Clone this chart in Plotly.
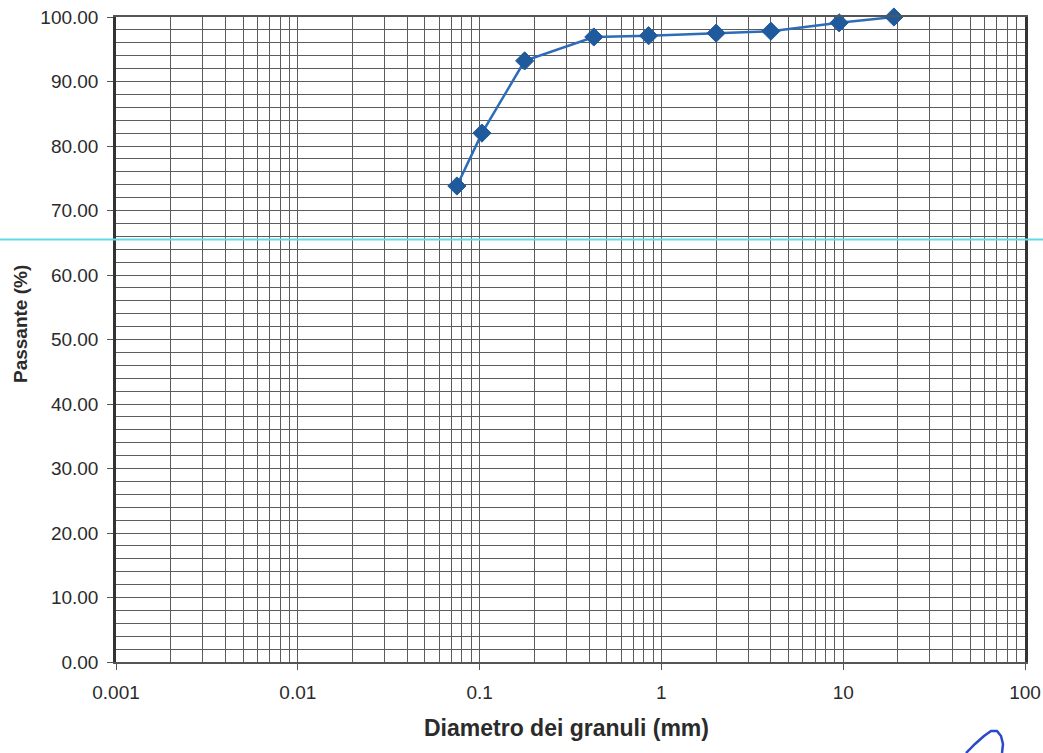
import plotly.graph_objects as go

# Data
diameters_mm = [0.075, 0.103, 0.177, 0.425, 0.85, 2.0, 4.0, 9.5, 19.0]
passing_pct = [73.8, 82.0, 93.2, 96.9, 97.1, 97.5, 97.8, 99.1, 100.0]

x_tick_vals = [0.001, 0.01, 0.1, 1, 10, 100]
x_tick_text = ["0.001", "0.01", "0.1", "1", "10", "100"]
x_minor_vals = [m * d for d in [0.001, 0.01, 0.1, 1, 10] for m in range(2, 10)]
y_tick_vals = [0, 10, 20, 30, 40, 50, 60, 70, 80, 90, 100]
y_tick_text = [f"{v:.2f}" for v in y_tick_vals]
scan_line_level = 65.5

FONT = "Liberation Sans, Arial, sans-serif"
GRID = "#5c5c5c"

FIG_W, FIG_H = 1043, 753
L, R, T, B = 116, 1025, 17, 662
W, H = R - L, B - T


def px(x):
    return (x - L) / W


def py(y):
    return (B - y) / H


fig = go.Figure()
fig.add_trace(go.Scatter(
    x=diameters_mm, y=passing_pct, mode="lines+markers",
    line=dict(color="#2d6cb6", width=2.5),
    marker=dict(symbol="diamond", size=14, color="#1f5a9c",
                line=dict(color="#1f5a9c", width=1)),
    showlegend=False, cliponaxis=False,
))

# scanner artifact: horizontal cyan line spanning the whole image
fig.add_shape(type="line", xref="paper", yref="y",
              x0=px(0), x1=px(1043), y0=scan_line_level, y1=scan_line_level,
              line=dict(color="#5fdbe6", width=2), layer="above")

# signature scribble at bottom right
pts = [(966, 753), (975, 744), (984, 736), (991, 731), (997, 731),
       (1001, 736), (1003, 744), (1002, 753)]
path = "M " + " L ".join(f"{px(a):.4f},{py(b):.4f}" for a, b in pts)
fig.add_shape(type="path", xref="paper", yref="paper", path=path,
              line=dict(color="#2a48c8", width=2.5))

fig.update_layout(
    width=FIG_W, height=FIG_H,
    margin=dict(l=L, r=FIG_W - R, t=T, b=FIG_H - B, autoexpand=False),
    paper_bgcolor="white", plot_bgcolor="white",
    font=dict(family=FONT, size=19, color="#2b2b2b"),
    xaxis=dict(
        type="log", range=[-3, 2], automargin=False,
        tickmode="array", tickvals=x_tick_vals, ticktext=x_tick_text,
        ticks="outside", ticklen=6, tickcolor="#555", ticklabelstandoff=6,
        showgrid=True, gridcolor=GRID, gridwidth=1,
        minor=dict(tickmode="array", tickvals=x_minor_vals, showgrid=True,
                   gridcolor=GRID, gridwidth=1, ticks=""),
        showline=True, linecolor="#555", linewidth=2, mirror=True,
        zeroline=False,
    ),
    yaxis=dict(
        range=[0, 100], automargin=False,
        tickmode="array", tickvals=y_tick_vals, ticktext=y_tick_text,
        ticks="outside", ticklen=6, tickcolor="#555", ticklabelstandoff=5,
        showgrid=True, gridcolor=GRID, gridwidth=1,
        minor=dict(dtick=2, showgrid=True, gridcolor=GRID, gridwidth=1, ticks=""),
        showline=True, linecolor="#333", linewidth=2.5, mirror=True,
        zeroline=False,
    ),
    annotations=[
        dict(text="<b>Diametro dei granuli (mm)</b>", xref="paper", yref="paper",
             x=px(566), y=py(728), xanchor="center", yanchor="middle",
             showarrow=False,
             font=dict(size=23, family=FONT, color="#2b2b2b")),
        dict(text="<b>Passante (%)</b>", xref="paper", yref="paper",
             x=px(20), y=py(324), xanchor="center", yanchor="middle",
             showarrow=False, textangle=-90,
             font=dict(size=19, family=FONT, color="#2b2b2b")),
    ],
)

fig.write_html(
    "out.html",
    config={"displayModeBar": False},
    post_script="document.body.style.margin='0';document.body.style.overflow='hidden';",
)
